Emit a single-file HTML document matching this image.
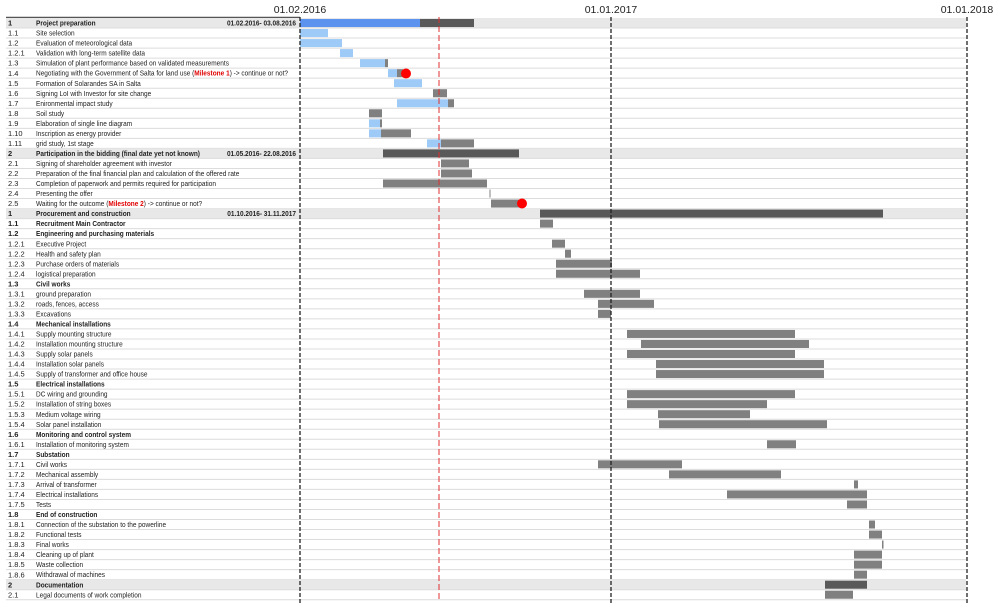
<!DOCTYPE html>
<html><head><meta charset="utf-8"><style>
body{margin:0;background:#fff;width:1000px;height:610px;overflow:hidden}
svg text{font-family:"Liberation Sans",Arial,sans-serif}
</style></head><body>
<svg id="s" width="1000" height="610" xmlns="http://www.w3.org/2000/svg"></svg>
<script>
const rows=[
["1","Project preparation",1,"01.02.2016-  03.08.2016"],["1.1","Site selection"],["1.2","Evaluation of meteorological data"],["1.2.1","Validation with long-term satellite data"],["1.3","Simulation of plant performance based on validated measurements"],["1.4","M"],["1.5","Formation of Solarandes SA in Salta"],["1.6","Signing LoI with Investor for site change"],["1.7","Enironmental impact study"],["1.8","Soil study"],["1.9","Elaboration of single line diagram"],["1.10","Inscription as energy provider"],["1.11","grid study, 1st stage"],
["2","Participation in the bidding (final date yet not known)",1,"01.05.2016-  22.08.2016"],["2.1","Signing of shareholder agreement with investor"],["2.2","Preparation of the final financial plan and calculation of the offered rate"],["2.3","Completion of paperwork and permits required for participation"],["2.4","Presenting the offer"],["2.5","M2"],
["1","Procurement and construction",1,"01.10.2016-  31.11.2017"],["1.1","Recruitment Main Contractor",2],["1.2","Engineering and purchasing materials",2],["1.2.1","Executive Project"],["1.2.2","Health and safety plan"],["1.2.3","Purchase orders of materials"],["1.2.4","logistical preparation"],["1.3","Civil works",2],["1.3.1","ground preparation"],["1.3.2","roads, fences, access"],["1.3.3","Excavations"],["1.4","Mechanical installations",2],["1.4.1","Supply mounting structure"],["1.4.2","Installation mounting structure"],["1.4.3","Supply solar panels"],["1.4.4","Installation solar panels"],["1.4.5","Supply of transformer and office house"],["1.5","Electrical installations",2],["1.5.1","DC wiring and grounding"],["1.5.2","Installation of string boxes"],["1.5.3","Medium voltage wiring"],["1.5.4","Solar panel installation"],["1.6","Monitoring and control system",2],["1.6.1","Installation of monitoring system"],["1.7","Substation",2],["1.7.1","Civil works"],["1.7.2","Mechanical assembly"],["1.7.3","Arrival of transformer"],["1.7.4","Electrical installations"],["1.7.5","Tests"],["1.8","End of construction",2],["1.8.1","Connection of the substation to the powerline"],["1.8.2","Functional tests"],["1.8.3","Final works"],["1.8.4","Cleaning up of plant"],["1.8.5","Waste collection"],["1.8.6","Withdrawal of machines"],["2","Documentation",1],["2.1","Legal documents of work completion"]];
const LB="#9dcaf6",BL="#5b93ef",DK="#595959",GR="#808080";
const bars={0:[[300,420,BL],[420,474,DK]],1:[[300,328,LB]],2:[[300,342,LB]],3:[[340,353,LB]],4:[[360,385,LB],[385,388,GR]],5:[[388,397,LB],[397,403,GR]],6:[[394,422,LB]],7:[[433,447,GR]],8:[[397,448,LB],[448,454,GR]],9:[[369,382,GR]],10:[[369,380,LB],[380,382,GR]],11:[[369,381,LB],[381,411,GR]],12:[[427,441,LB],[441,474,GR]],13:[[383,519,DK]],14:[[441,469,GR]],15:[[441,472,GR]],16:[[383,487,GR]],17:[[489.5,490.5,GR]],18:[[491,520,GR]],19:[[540,883,DK]],20:[[540,553,GR]],22:[[552,565,GR]],23:[[565,571,GR]],24:[[556,612,GR]],25:[[556,640,GR]],27:[[584,640,GR]],28:[[598,654,GR]],29:[[598,611,GR]],31:[[627,795,GR]],32:[[641,809,GR]],33:[[627,795,GR]],34:[[656,824,GR]],35:[[656,824,GR]],37:[[627,795,GR]],38:[[627,767,GR]],39:[[658,750,GR]],40:[[659,827,GR]],42:[[767,796,GR]],44:[[598,682,GR]],45:[[669,781,GR]],46:[[854,858,GR]],47:[[727,867,GR]],48:[[847,867,GR]],50:[[869,875,GR]],51:[[869,882,GR]],52:[[882,883.5,GR]],53:[[854,882,GR]],54:[[854,882,GR]],55:[[854,867,GR]],56:[[825,867,DK]],57:[[825,853,GR]]};
let h='';const RH=10.03,T=18;
h+=`<line x1="6" y1="17.5" x2="300" y2="17.5" stroke="#555" stroke-width="1.5"/>`;
rows.forEach((r,i)=>{const y=T+i*RH;
 if(r[2]==1)h+=`<rect x="6" y="${y}" width="960" height="${RH}" fill="#e8e8e8"/>`;
 h+=`<line x1="6" y1="${y+RH}" x2="966" y2="${y+RH}" stroke="#dcdcdc" stroke-width="1"/>`;
});
rows.forEach((r,i)=>{const y=T+i*RH, ty=y+7.6, b=r[2]?'bold':'normal';
 h+=`<text x="8" y="${ty}" font-size="7.5" font-weight="${b}" fill="#222">${r[0]}</text>`;
 let t=r[1];
 if(t=="M")t=`Negotiating with the Government of Salta for land use (<tspan fill="#e00000" font-weight="bold">Milestone 1</tspan>)   -&gt; continue or not?`;
 if(t=="M2")t=`Waiting for the outcome (<tspan fill="#e00000" font-weight="bold">Milestone 2</tspan>) -&gt; continue or not?`;
 h+=`<g transform="translate(36,0) scale(0.93,1)"><text x="0" y="${ty}" font-size="7" font-weight="${b}" fill="#222">${t}</text></g>`;
 if(r[3])h+=`<g transform="translate(296,0) scale(0.93,1)"><text x="0" y="${ty}" font-size="7" font-weight="bold" text-anchor="end" fill="#222">${r[3]}</text></g>`;
 (bars[i]||[]).forEach(([a,c,col])=>{h+=`<rect x="${a}" y="${y+1}" width="${c-a}" height="${RH-2}" fill="${col}"/>`;});
});
[300,611,967].forEach(x=>h+=`<line x1="${x}" y1="17" x2="${x}" y2="605" stroke="#222" stroke-width="1.3" stroke-dasharray="4,2"/>`);
h+=`<line x1="439" y1="17" x2="439" y2="600" stroke="#e03030" stroke-width="1" stroke-dasharray="6,3"/>`;
h+=`<circle cx="406" cy="73.5" r="5" fill="#f00"/><circle cx="522" cy="203.5" r="5" fill="#f00"/>`;
[[300,"01.02.2016"],[611,"01.01.2017"],[967,"01.01.2018"]].forEach(([x,t])=>h+=`<text x="${x}" y="13" font-size="10.5" text-anchor="middle" fill="#222">${t}</text>`);
document.getElementById('s').innerHTML=h;
</script>
</body></html>
